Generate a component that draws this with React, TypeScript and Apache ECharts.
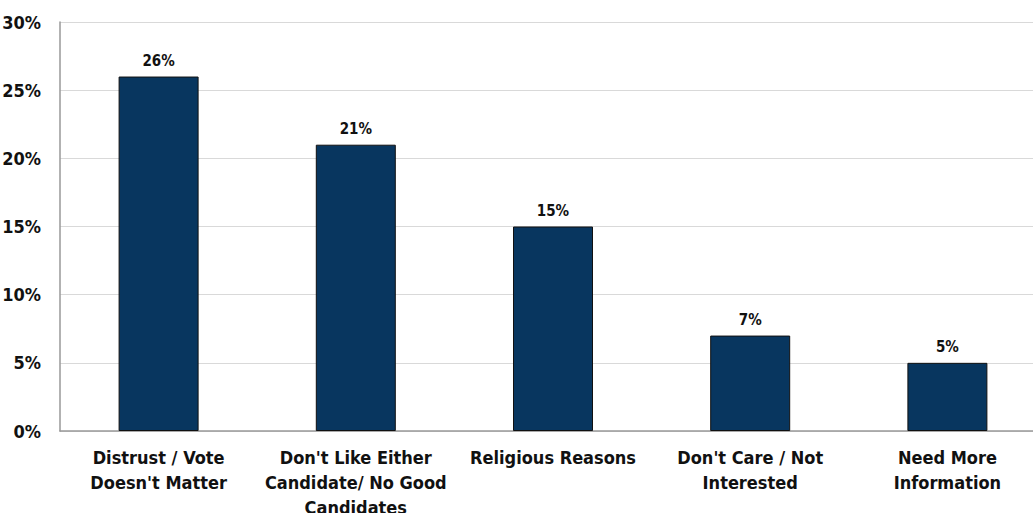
import React, { useEffect, useRef } from "react";
import * as echarts from "echarts";

const categories = [
  "Distrust / Vote\nDoesn't Matter",
  "Don't Like Either\nCandidate/ No Good\nCandidates",
  "Religious Reasons",
  "Don't Care / Not\nInterested",
  "Need More\nInformation",
];
const values = [26, 21, 15, 7, 5];
const yTicks = { min: 0, max: 30, interval: 5 };

const FONT = "'DejaVu Sans Condensed', sans-serif";

export default function App() {
  const ref = useRef<HTMLDivElement>(null);
  useEffect(() => {
    if (!ref.current) return;
    const chart = echarts.init(ref.current, null, { renderer: "svg" });
    chart.setOption({
      animation: false,
      grid: { left: 60, right: -13, top: 22, bottom: 82, outerBoundsMode: "none", containLabel: false },
      xAxis: {
        type: "category",
        data: categories,
        axisLine: { lineStyle: { color: "#999", width: 1.5 } },
        axisTick: { show: false },
        axisLabel: {
          color: "#111",
          fontFamily: FONT,
          fontWeight: "bold",
          fontSize: 18,
          lineHeight: 25,
          margin: 14,
          interval: 0,
        },
      },
      yAxis: {
        type: "value",
        min: yTicks.min,
        max: yTicks.max,
        interval: yTicks.interval,
        axisLine: { show: true, lineStyle: { color: "#999", width: 1.5 } },
        splitLine: { lineStyle: { color: "#d9d9d9", width: 1 } },
        axisLabel: {
          formatter: "{value}%",
          color: "#111",
          fontFamily: FONT,
          fontWeight: "bold",
          fontSize: 18,
          margin: 19,
        },
      },
      series: [
        {
          type: "bar",
          data: values,
          barWidth: 80,
          itemStyle: { color: "#08365f", borderColor: "#111", borderWidth: 1 },
          label: {
            show: true,
            position: "top",
            formatter: "{c}%",
            color: "#111",
            fontFamily: FONT,
            fontWeight: "bold",
            fontSize: 15,
            distance: 8,
          },
        },
      ],
    });
    return () => chart.dispose();
  }, []);
  return (
    <div
      ref={ref}
      style={{ position: "absolute", left: 0, top: 0, width: 1033, height: 513 }}
    />
  );
}
